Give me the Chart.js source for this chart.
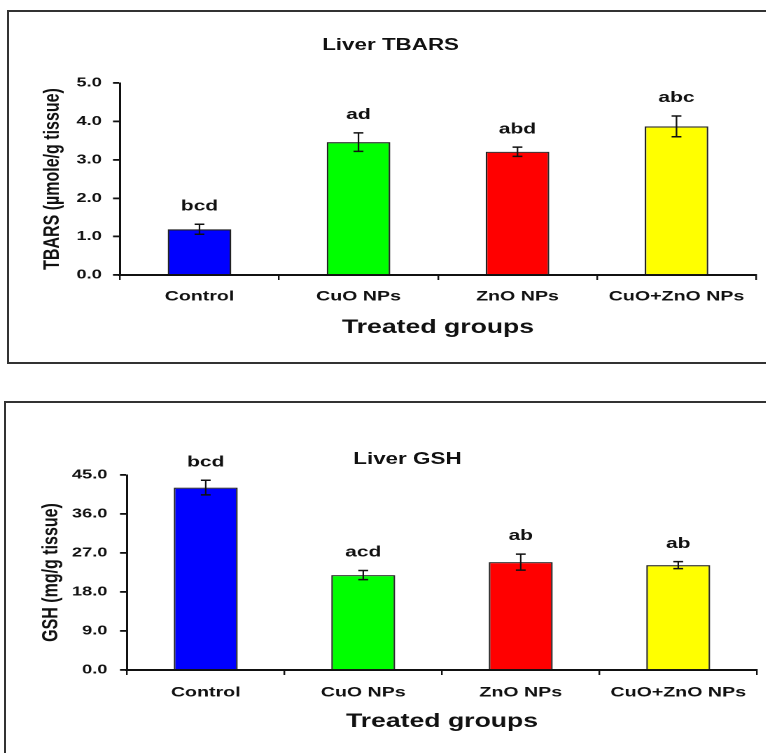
<!DOCTYPE html>
<html>
<head>
<meta charset="utf-8">
<script src="https://cdn.jsdelivr.net/npm/chart.js@4.4.1/dist/chart.umd.min.js"></script>
<style>
  body { margin: 0; background: #fff; width: 766px; height: 753px; overflow: hidden; position: relative;
         font-family: "Liberation Sans", Arial, sans-serif; }
  .frame { position: absolute; border: 2px solid #333; }
  #frameTop { left: 7px; top: 10px; width: 820px; height: 350px; }
  #frameBot { left: 4px; top: 401px; width: 820px; height: 420px; }
  /* the source figure is stretched sideways, so each panel is drawn narrow and scaled */
  .panel { position: absolute; left: 0; width: 547px; transform: scaleX(1.4); transform-origin: 0 0; }
  #panelTop { top: 0; height: 363px; }
  #panelBot { top: 380px; height: 373px; }
  .title { position: absolute; font-weight: bold; font-size: 16px; color: #111;
           transform: translate(-50%, -50%); white-space: nowrap; }
  canvas { position: absolute; left: 0; top: 0; }
</style>
</head>
<body>
<div class="frame" id="frameTop"></div>
<div class="frame" id="frameBot"></div>

<div class="panel" id="panelTop">
  <div class="title" style="left:279px; top:45px;">Liver TBARS</div>
  <canvas id="tbarsChart" width="547" height="363"></canvas>
</div>
<div class="panel" id="panelBot">
  <div class="title" style="left:291px; top:79px;">Liver GSH</div>
  <canvas id="gshChart" width="547" height="373"></canvas>
</div>

<script>
/* === DATA === */
const groups = ["Control", "CuO NPs", "ZnO NPs", "CuO+ZnO NPs"];

const tbarsMean = [1.19, 3.46, 3.21, 3.87];
const tbarsSE = [0.13, 0.24, 0.12, 0.27];
const tbarsLetters = ["bcd", "ad", "abd", "abc"];

const gshMean = [42.1, 21.9, 24.9, 24.2];
const gshSE = [1.7, 1.05, 1.85, 0.8];
const gshLetters = ["bcd", "acd", "ab", "ab"];

const barColors = ["#0000ff", "#00ff00", "#ff0000", "#ffff00"];
const ink = "#111";
const FONT = '"Liberation Sans", Arial, sans-serif';

/* === ERROR BARS + LETTERS === */
const errorBars = {
  id: "errorBars",
  afterDatasetsDraw(chart, args, opts) {
    const { ctx } = chart;
    const y = chart.scales.y;
    const meta = chart.getDatasetMeta(0);
    ctx.save();
    ctx.strokeStyle = ink;
    ctx.fillStyle = ink;
    meta.data.forEach((bar, i) => {
      const m = opts.mean[i], e = opts.se[i];
      const yTop = y.getPixelForValue(m + e);
      const yBot = y.getPixelForValue(m - e);
      const x = bar.x;
      ctx.lineWidth = 1.1;
      ctx.beginPath();
      ctx.moveTo(x, yTop);
      ctx.lineTo(x, yBot);
      ctx.stroke();
      ctx.lineWidth = 1.5;
      ctx.beginPath();
      ctx.moveTo(x - 3.5, yTop); ctx.lineTo(x + 3.5, yTop);
      ctx.moveTo(x - 3.5, yBot); ctx.lineTo(x + 3.5, yBot);
      ctx.stroke();

      ctx.font = "bold 15px " + FONT;
      ctx.textAlign = "center";
      ctx.textBaseline = "middle";
      ctx.fillText(opts.letters[i], x, yTop - 18);
    });
    ctx.restore();
  }
};

function makeChart(id, cfg) {
  return new Chart(document.getElementById(id), {
    type: "bar",
    data: {
      labels: groups,
      datasets: [{
        data: cfg.mean,
        backgroundColor: barColors,
        borderColor: "#222",
        borderWidth: 1.2,
        categoryPercentage: 1,
        barPercentage: cfg.barPct
      }]
    },
    plugins: [errorBars],
    options: {
      responsive: false,
      animation: false,
      devicePixelRatio: 2,
      layout: { padding: cfg.padding },
      plugins: {
        legend: { display: false },
        tooltip: { enabled: false },
        title: { display: false },
        errorBars: { mean: cfg.mean, se: cfg.se, letters: cfg.letters }
      },
      scales: {
        x: {
          afterFit: s => { s.height = cfg.xHeight; },
          grid: { offset: true, drawOnChartArea: false, drawTicks: true, tickLength: 5, color: ink, lineWidth: 1.2 },
          border: { display: true, color: ink, width: 2 },
          ticks: { color: ink, padding: cfg.xPad, font: { family: FONT, size: 14, weight: "bold" } },
          title: { display: true, text: "Treated groups", color: ink, padding: 0,
                   font: { family: FONT, size: 19, weight: "bold" } }
        },
        y: {
          min: 0,
          max: cfg.max,
          afterFit: s => { s.width = cfg.yWidth; },
          ticks: { stepSize: cfg.step, color: ink, padding: cfg.yPad,
                   font: { family: FONT, size: 13, weight: "bold" },
                   callback: v => Number(v).toFixed(1) },
          grid: { drawOnChartArea: false, drawTicks: true, tickLength: 5, color: ink, lineWidth: 1.8 },
          border: { display: true, color: ink, width: 1.5 },
          title: { display: true, text: cfg.yTitle, color: ink, padding: 0,
                   font: { family: FONT, size: 16, weight: "bold" } }
        }
      }
    }
  });
}

makeChart("tbarsChart", {
  mean: tbarsMean, se: tbarsSE, letters: tbarsLetters,
  max: 5, step: 1, yTitle: "TBARS (\u00b5mole/g tissue)",
  barPct: 0.4,
  padding: { left: 28, right: 7, top: 83, bottom: 24 },
  yWidth: 57.7, xHeight: 64, xPad: 8.3, yPad: 8
});

makeChart("gshChart", {
  mean: gshMean, se: gshSE, letters: gshLetters,
  max: 45, step: 9, yTitle: "GSH (mg/g tissue)",
  barPct: 0.406,
  padding: { left: 27, right: 6.3, top: 95, bottom: 20 },
  yWidth: 63.7, xHeight: 63, xPad: 9.3, yPad: 9
});
</script>
</body>
</html>
